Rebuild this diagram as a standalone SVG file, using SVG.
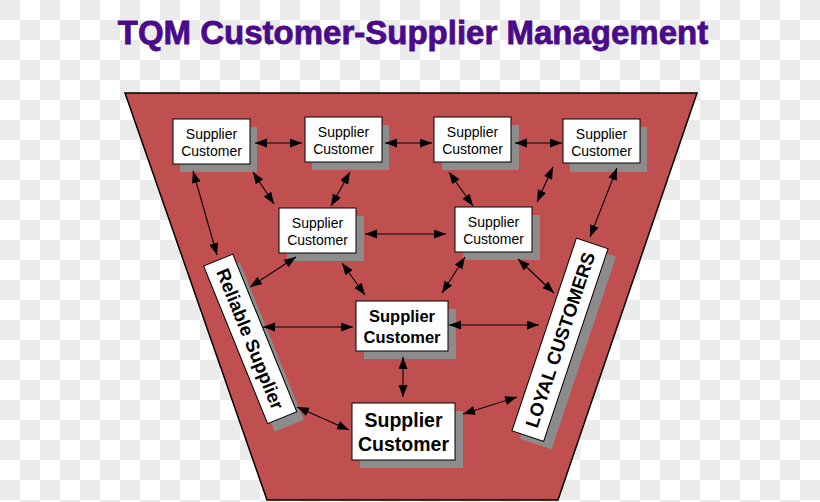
<svg xmlns="http://www.w3.org/2000/svg" width="820" height="502" viewBox="0 0 820 502">
<style>
.box{fill:#fff;stroke:#000;stroke-width:1}
.sh{fill:#8c8c8c}
.t1{font-family:"Liberation Sans",Arial,sans-serif;font-size:14px;fill:#000;text-anchor:middle}
.t2{font-family:"Liberation Sans",Arial,sans-serif;font-size:16.5px;font-weight:bold;fill:#000;text-anchor:middle}
.t3{font-family:"Liberation Sans",Arial,sans-serif;font-size:19.5px;font-weight:bold;fill:#000;text-anchor:middle}
.bn{font-family:"Liberation Sans",Arial,sans-serif;fill:#000;text-anchor:middle;font-weight:bold;font-size:18.5px}
.c line{stroke:#000;stroke-width:1.1;marker-start:url(#ah);marker-end:url(#ah)}
</style>
<defs>
<pattern id="chk" patternUnits="userSpaceOnUse" width="40" height="40">
<rect width="40" height="40" fill="#ffffff"/>
<rect width="20" height="20" fill="#ebebeb"/>
<rect x="20" y="20" width="20" height="20" fill="#ebebeb"/>
</pattern>
<marker id="ah" markerUnits="userSpaceOnUse" markerWidth="13" markerHeight="10" refX="12" refY="4.5" orient="auto-start-reverse">
<path d="M0,0 L12,4.5 L0,9 z" fill="#000"/>
</marker>
</defs>
<rect width="820" height="502" fill="url(#chk)"/>
<text x="413" y="44" font-family="'Liberation Sans',Arial,sans-serif" font-size="33" font-weight="bold" fill="#4a0a8a" stroke="#4a0a8a" stroke-width="0.8" text-anchor="middle">TQM Customer-Supplier Management</text>
<polygon id="funnel" points="125,93 697,93 558,500 267,500" fill="#c0504f" stroke="#000" stroke-width="1.5"/>

<g id="n1"><rect class="sh" x="180" y="127" width="77" height="45"/><rect class="box" x="173" y="119" width="77" height="45"/><text class="t1" x="211.5" y="138.5">Supplier</text><text class="t1" x="211.5" y="156">Customer</text></g>
<g id="n2"><rect class="sh" x="312" y="125" width="77" height="45"/><rect class="box" x="305" y="117" width="77" height="45"/><text class="t1" x="343.5" y="136.5">Supplier</text><text class="t1" x="343.5" y="154">Customer</text></g>
<g id="n3"><rect class="sh" x="442" y="125" width="77" height="45"/><rect class="box" x="434" y="117" width="77" height="45"/><text class="t1" x="472.5" y="136.5">Supplier</text><text class="t1" x="472.5" y="154">Customer</text></g>
<g id="n4"><rect class="sh" x="570" y="127" width="77" height="45"/><rect class="box" x="563" y="119" width="77" height="44"/><text class="t1" x="601.5" y="138.5">Supplier</text><text class="t1" x="601.5" y="156">Customer</text></g>
<g id="n5"><rect class="sh" x="287" y="216" width="77" height="45"/><rect class="box" x="279" y="208" width="77" height="45"/><text class="t1" x="317.5" y="227.5">Supplier</text><text class="t1" x="317.5" y="245">Customer</text></g>
<g id="n6"><rect class="sh" x="463" y="215" width="77" height="45"/><rect class="box" x="455" y="207" width="77" height="45"/><text class="t1" x="493.5" y="226.5">Supplier</text><text class="t1" x="493.5" y="244">Customer</text></g>
<g id="n7"><rect class="sh" x="364" y="309" width="92" height="50"/><rect class="box" x="356" y="301" width="92" height="50"/><text class="t2" x="402" y="321.5">Supplier</text><text class="t2" x="402" y="342.5">Customer</text></g>
<g id="n8"><rect class="sh" x="360" y="411" width="103" height="57"/><rect class="box" x="352" y="403" width="103" height="57"/><text class="t3" x="403.5" y="427">Supplier</text><text class="t3" x="403.5" y="450.5">Customer</text></g>

<g id="reliable">
<g transform="translate(257.2,346.9) rotate(67.9)"><rect class="sh" x="-85" y="-15.75" width="170" height="31.5"/></g>
<g transform="translate(250.2,338.9) rotate(67.9)"><rect class="box" x="-85" y="-15.75" width="170" height="31.5"/><text class="bn" x="0" y="6.5">Reliable Supplier</text></g>
</g>
<g id="loyal">
<g transform="translate(568,347.75) rotate(-71.5)"><rect class="sh" x="-101.5" y="-16.7" width="203" height="33.4"/></g>
<g transform="translate(560,339.75) rotate(-71.5)"><rect class="box" x="-101.5" y="-16.7" width="203" height="33.4"/><text class="bn" x="0" y="6.6">LOYAL CUSTOMERS</text></g>
</g>

<g id="connectors" class="c">
<line x1="255" y1="143" x2="302" y2="143"/>
<line x1="385" y1="143" x2="432" y2="143"/>
<line x1="515" y1="143" x2="562" y2="143"/>
<line x1="193" y1="171" x2="217" y2="255"/>
<line x1="253" y1="172" x2="274" y2="204"/>
<line x1="350" y1="172" x2="331" y2="206"/>
<line x1="449" y1="172" x2="473" y2="206"/>
<line x1="553" y1="167" x2="537" y2="202"/>
<line x1="617" y1="168" x2="590" y2="237"/>
<line x1="365" y1="234" x2="446" y2="234"/>
<line x1="296" y1="257" x2="250" y2="287"/>
<line x1="342" y1="263" x2="365" y2="295"/>
<line x1="465" y1="257" x2="442" y2="293"/>
<line x1="518" y1="259" x2="554" y2="293"/>
<line x1="263" y1="327" x2="353" y2="327"/>
<line x1="449" y1="325" x2="539" y2="325"/>
<line x1="403" y1="357" x2="403" y2="397"/>
<line x1="297" y1="407" x2="349" y2="430"/>
<line x1="463" y1="414" x2="517" y2="397"/>
</g>
</svg>
